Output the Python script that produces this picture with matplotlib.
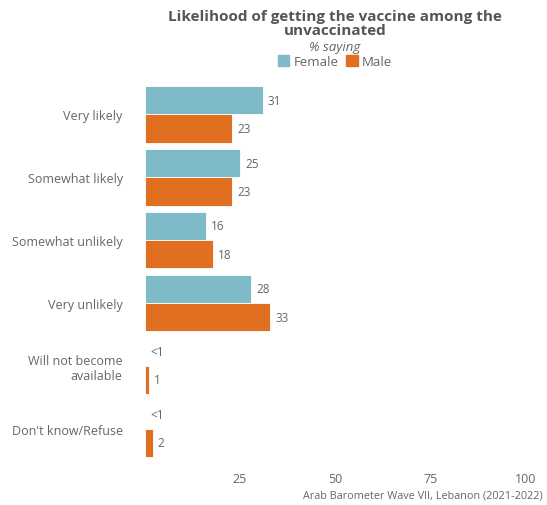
import numpy as np
import matplotlib
matplotlib.use("Agg")
import matplotlib.pyplot as plt
from matplotlib.patches import Patch

plt.rcParams['font.family'] = ['Open Sans', 'DejaVu Sans']

categories = ["Very likely", "Somewhat likely", "Somewhat unlikely", "Very unlikely",
              "Will not become\navailable", "Don't know/Refuse"]
female = [31, 25, 16, 28, 0, 0]
male = [23, 23, 18, 33, 1, 2]
female_labels = ["31", "25", "16", "28", "<1", "<1"]
male_labels = ["23", "23", "18", "33", "1", "2"]
xticks = [25, 50, 75, 100]

c_female = "#7fbac8"
c_male = "#e07020"
grey = "#666666"

fig = plt.figure(figsize=(5.47, 5.06), dpi=100)
ax = fig.add_axes([0.265, 0.089, 0.695, 0.745])

y = np.arange(len(categories))
h = 0.45
ax.barh(y - h/2, female, height=h, color=c_female, edgecolor="white", linewidth=0.6)
ax.barh(y + h/2, male, height=h, color=c_male, edgecolor="white", linewidth=0.6)

for i in range(len(categories)):
    ax.text(female[i] + 1.3, y[i] - h/2, female_labels[i], va="center", ha="left",
            fontsize=8.5, color=grey)
    ax.text(male[i] + 1.3, y[i] + h/2, male_labels[i], va="center", ha="left",
            fontsize=8.5, color=grey)

ax.set_xlim(0, 100)
ax.set_ylim(len(categories) - 0.5, -0.5)
ax.set_xticks(xticks)
ax.set_xticklabels([str(t) for t in xticks])
ax.set_yticks(y)
ax.set_yticklabels(categories)
ax.tick_params(axis="x", length=0, pad=9, labelsize=9, labelcolor=grey)
ax.tick_params(axis="y", length=0, pad=16, labelsize=9, labelcolor=grey)
for s in ax.spines.values():
    s.set_visible(False)

cx = (0.265 + 0.96) / 2
fig.text(cx, 0.953, "Likelihood of getting the vaccine among the\nunvaccinated",
         ha="center", va="center", fontsize=11, fontweight="bold", color="#555555",
         linespacing=1.05)
fig.text(cx, 0.907, "% saying", ha="center", va="center", fontsize=9.5,
         style="italic", color=grey)
handles = [Patch(color=c_female, label="Female"), Patch(color=c_male, label="Male")]
fig.legend(handles=handles, loc="center", bbox_to_anchor=(cx, 0.877), ncol=2,
           frameon=False, fontsize=9.5, handlelength=0.9, handleheight=0.9,
           handletextpad=0.3, columnspacing=0.6, labelcolor=grey)

fig.text(0.993, 0.02, "Arab Barometer Wave VII, Lebanon (2021-2022)", ha="right",
         va="center", fontsize=7.8, color=grey)

fig.savefig("out.png", dpi=100)
